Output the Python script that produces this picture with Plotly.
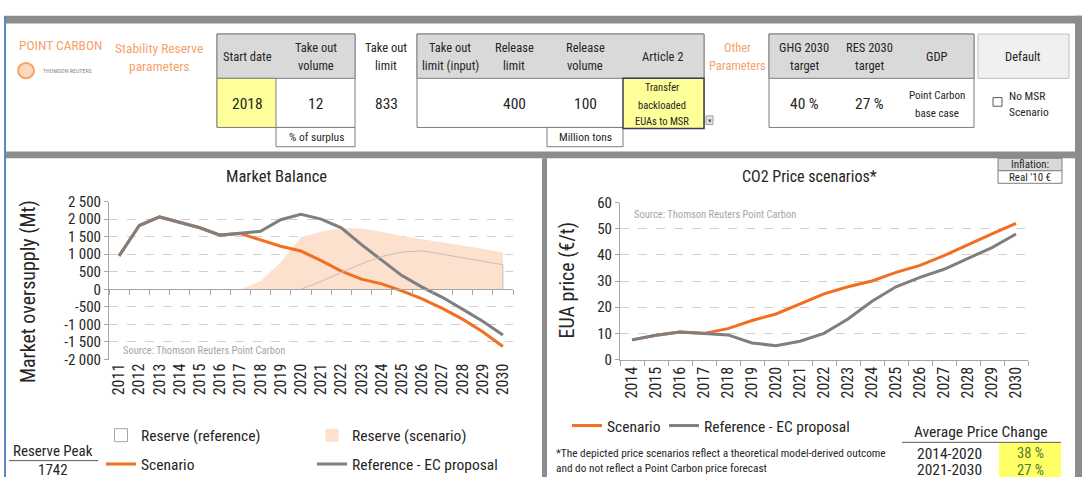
import plotly.graph_objects as go

W, H = 1082, 486

# --- data -------------------------------------------------------------
mb_years = ['2011', '2012', '2013', '2014', '2015', '2016', '2017', '2018', '2019', '2020',
            '2021', '2022', '2023', '2024', '2025', '2026', '2027', '2028', '2029', '2030']
ref_balance = [955, 1818, 2063, 1909, 1754, 1545, 1590, 1654, 1982, 2136,
               2000, 1754, 1272, 818, 391, 64, -227, -564, -909, -1300]
scen_balance = [955, 1818, 2063, 1909, 1754, 1545, 1590, 1409, 1227, 1091,
                818, 518, 291, 155, -45, -273, -545, -850, -1210, -1628]
reserve_scen = [None, None, None, None, None, None, 0, 227, 770, 1482,
                1640, 1742, 1735, 1640, 1520, 1430, 1340, 1245, 1155, 1045]
reserve_ref = [None, None, None, None, None, None, None, None, None, 0,
               227, 480, 727, 936, 1060, 1100, 1000, 900, 810, 700]
mb_ticks = [2500, 2000, 1500, 1000, 500, 0, -500, -1000, -1500, -2000]
mb_ticktext = ['2 500', '2 000', '1 500', '1 000', '500', '0', '-500', '-1 000', '-1 500', '-2 000']

px_years = ['2014', '2015', '2016', '2017', '2018', '2019', '2020', '2021', '2022',
            '2023', '2024', '2025', '2026', '2027', '2028', '2029', '2030']
scen_price = [7.5, 9.3, 10.5, 10.0, 11.8, 14.9, 17.4, 21.3, 25.1, 27.8, 30.0, 33.3, 36.0, 39.7, 44.0, 48.0, 52.0]
ref_price = [7.5, 9.3, 10.5, 10.0, 9.4, 6.3, 5.3, 7.0, 10.0, 15.5, 22.3, 27.8, 31.4, 34.5, 38.8, 42.8, 48.0]

ORANGE = '#f26f21'
GREY = '#7f7f7f'
PEACH = '#fbe1ce'
TXT = '#262626'
FONT = 'Liberation Sans Narrow, Roboto Condensed, Roboto, sans-serif'


def X(p):
    return p / W


def Y(p):
    return 1 - p / H


shapes = []
annotations = []


def rect(x0, y0, x1, y1, fill, line=None, lw=1, layer='below'):
    shapes.append(dict(type='rect', xref='paper', yref='paper', layer=layer,
                       x0=X(x0), x1=X(x1), y0=Y(y1), y1=Y(y0), fillcolor=fill,
                       line=dict(color=line or fill, width=lw if line else 0)))


def hline(x0, x1, y, color='#595959', lw=1):
    shapes.append(dict(type='line', xref='paper', yref='paper',
                       x0=X(x0), x1=X(x1), y0=Y(y), y1=Y(y), line=dict(color=color, width=lw)))


def txt(x, y, s, size=12.5, color=TXT, anchor='center', angle=0):
    annotations.append(dict(x=X(x), y=Y(y), xref='paper', yref='paper', text=s, showarrow=False,
                            xanchor=anchor, yanchor='middle', textangle=angle,
                            font=dict(size=size, color=color, family=FONT)))


# --- frame -------------------------------------------------------------
BAR = '#8c8c8c'
rect(6, 7, 1082, 15, BAR)
rect(6, 148, 1082, 155, BAR)
rect(542, 155, 547, 486, BAR)
rect(1075, 7, 1082, 486, BAR)
rect(4, 7, 6, 486, '#5b87c5')

# --- header panel -------------------------------------------------------
LC = '#7f7f7f'
HG = '#d9d9d9'
rect(217, 26, 355, 123, 'white', LC)
rect(217, 26, 355, 72, HG, LC)
rect(217, 72, 276, 123, '#ffff99', LC)
rect(276, 123, 355, 143, 'white', LC)
rect(417, 26, 704, 123, 'white', LC)
rect(417, 26, 704, 72, HG, LC)
rect(547, 123, 623, 143, 'white', LC)
rect(623, 72, 704, 124, '#ffff99', '#3a3a5a', 1.5)
rect(706, 111, 713, 120, '#e6e6e6', '#a0a0a0')
rect(769, 26, 974, 123, 'white', LC)
rect(769, 26, 974, 72, HG, LC)
rect(978, 26, 1069, 72, '#f0f0f0', '#c0c0c0')
rect(993, 92, 1002, 101, 'white', '#595959')
shapes.append(dict(type='circle', xref='paper', yref='paper', x0=X(18), x1=X(34), y0=Y(72), y1=Y(56),
                   fillcolor='#fcd8bd', line=dict(color='#f4a46a', width=2)))

txt(17, 37, 'POINT CARBON', 13.5, '#f5a26c', 'left')
txt(41, 64, 'THOMSON REUTERS', 6, '#8a8a8a', 'left')
txt(159, 40, 'Stability Reserve', 13.5, '#f5a26c')
txt(159, 59, 'parameters', 13.5, '#f5a26c')
txt(247, 49, 'Start date')
for cx, a, b in [(316, 'Take out', 'volume'), (386, 'Take out', 'limit'),
                 (450, 'Take out', 'limit (input)'), (514, 'Release', 'limit'),
                 (585, 'Release', 'volume'), (804, 'GHG 2030', 'target'),
                 (869, 'RES 2030', 'target')]:
    txt(cx, 40, a)
    txt(cx, 59, b)
txt(737, 40, 'Other', 12.5, '#f5a26c')
txt(737, 59, 'Parameters', 12.5, '#f5a26c')
txt(662, 49, 'Article 2')
txt(937, 49, 'GDP')
txt(1023, 49, 'Default')
for cx, s in [(247, '2018'), (316, '12'), (386, '833'), (514, '400'), (585, '100'), (804, '40 %'), (869, '27 %')]:
    txt(cx, 99, s, 15.5)
txt(662, 82, 'Transfer', 10.5)
txt(662, 100, 'backloaded', 10.5)
txt(662, 117, 'EUAs to MSR', 10.5)
txt(709.5, 116, '▾', 7, '#555555')
txt(937, 90, 'Point Carbon', 11)
txt(937, 109, 'base case', 11)
txt(316, 133, '% of surplus', 11.5)
txt(585, 133, 'Million tons', 11.5)
txt(1007, 90, 'No MSR', 11.5, TXT, 'left')
txt(1007, 107, 'Scenario', 11.5, TXT, 'left')

# --- chart panels text ---------------------------------------------------
txt(276, 174, 'Market Balance', 16.5)
txt(809, 174, 'CO2 Price scenarios*', 16)
rect(998, 155, 1062, 168, HG, LC)
rect(998, 168, 1062, 181, 'white', LC)
txt(1030, 161.5, 'Inflation:', 11)
txt(1030, 174.5, "Real '10 €", 11)
txt(121, 355, 'Source: Thomson Reuters Point Carbon', 10.5, '#a6a6a6', 'left')
txt(632, 213, 'Source: Thomson Reuters Point Carbon', 10.5, '#a6a6a6', 'left')
txt(28, 294, 'Market oversupply (Mt)', 20, TXT, 'center', -90)
txt(567, 282, 'EUA price (€/t)', 20, TXT, 'center', -90)

txt(53, 459, 'Reserve Peak', 15)
hline(9, 98, 469)
txt(53, 479, '1742', 15)

rect(999, 450, 1061, 486, '#ffff66')
hline(902, 1061, 450)
txt(981, 439, 'Average Price Change', 15.5)
txt(949, 462, '2014-2020', 15.5)
txt(949, 479, '2021-2030', 15.5)
txt(1030, 462, '38 %', 14.5, '#4e7a2c')
txt(1030, 479, '27 %', 14.5, '#4e7a2c')
txt(554, 462, '*The depicted price scenarios reflect a theoretical model-derived outcome', 11.3, TXT, 'left')
txt(554, 477, 'and do not reflect a Point Carbon price forecast', 11.3, TXT, 'left')

# --- traces ---------------------------------------------------------------
fig = go.Figure()
fig.add_trace(go.Scatter(x=mb_years, y=reserve_scen, mode='lines', fill='tozeroy', fillcolor=PEACH,
                         line=dict(width=0, color=PEACH), showlegend=False))
fig.add_trace(go.Scatter(x=mb_years + mb_years[-1:], y=reserve_ref + [0], mode='lines',
                         line=dict(width=1, color='#bfbfbf'), showlegend=False, xaxis='x3', yaxis='y'))
fig.add_trace(go.Scatter(x=mb_years, y=scen_balance, mode='lines', name='Scenario',
                         line=dict(width=3, color=ORANGE), legend='legend3'))
fig.add_trace(go.Scatter(x=mb_years, y=ref_balance, mode='lines', name='Reference - EC proposal',
                         line=dict(width=3, color=GREY), legend='legend4'))
# legend entries for the reserve areas
fig.add_trace(go.Scatter(x=[None], y=[None], mode='markers', name='Reserve (reference)',
                         marker=dict(symbol='square', size=13, color='white', line=dict(color='#a6a6a6', width=1)),
                         legend='legend'))
fig.add_trace(go.Scatter(x=[None], y=[None], mode='markers', name='Reserve (scenario)',
                         marker=dict(symbol='square', size=13, color=PEACH, line=dict(width=0)),
                         legend='legend2'))

fig.add_trace(go.Scatter(x=px_years, y=scen_price, mode='lines', name='Scenario',
                         line=dict(width=3, color=ORANGE), xaxis='x2', yaxis='y2', legend='legend5'))
fig.add_trace(go.Scatter(x=px_years, y=ref_price, mode='lines', name='Reference - EC proposal',
                         line=dict(width=3, color=GREY), xaxis='x2', yaxis='y2', legend='legend6'))

# --- axes -------------------------------------------------------------------
AX = '#a6a6a6'
ydom1 = [Y(364), Y(200)]
yr1 = [-2000, 2500]
zero_pos = ydom1[0] + (0 - yr1[0]) / (yr1[1] - yr1[0]) * (ydom1[1] - ydom1[0])

common_y = dict(showline=True, linecolor=AX, ticks='outside', ticklen=4, tickcolor=AX,
                gridcolor='#d0d0d0', griddash='dash', zeroline=False,
                tickfont=dict(size=15, color=TXT, family=FONT))
common_x = dict(type='category', tickangle=-90, showgrid=False, tickmode='linear', dtick=1,
                tickfont=dict(size=16, color=TXT, family=FONT))

legend_common = dict(bgcolor='rgba(0,0,0,0)', xanchor='left', yanchor='middle', itemwidth=30,
                     font=dict(size=15.5, color=TXT, family=FONT), itemclick=False, itemdoubleclick=False)

fig.update_layout(
    width=W, height=H, margin=dict(l=0, r=0, t=0, b=0),
    paper_bgcolor='white', plot_bgcolor='rgba(0,0,0,0)',
    font=dict(family=FONT, color=TXT),
    xaxis=dict(domain=[X(109), X(513)], anchor='y', categoryarray=mb_years, categoryorder='array',
               range=[-0.5, 19.5], showline=False, ticks='', **common_x),
    xaxis3=dict(overlaying='x', anchor='free', position=zero_pos, type='category', categoryarray=mb_years,
                categoryorder='array', range=[-0.5, 19.5], showline=True, linecolor=AX, ticks='outside',
                tickson='boundaries', ticklen=5, tickcolor=AX, showticklabels=False, showgrid=False),
    yaxis=dict(domain=ydom1, range=yr1, tickvals=mb_ticks, ticktext=mb_ticktext, **common_y),
    xaxis2=dict(domain=[X(620), X(1028)], anchor='y2', categoryarray=px_years, categoryorder='array',
                range=[-0.5, 16.5], showline=True, linecolor=AX, ticks='outside', tickson='boundaries',
                ticklen=5, tickcolor=AX, **common_x),
    yaxis2=dict(domain=[Y(364), Y(201)], anchor='x2', range=[0, 60], dtick=10, **common_y),
    legend=dict(x=X(101), y=Y(443), **legend_common),
    legend2=dict(x=X(312), y=Y(443), **legend_common),
    legend3=dict(x=X(101), y=Y(473), **legend_common),
    legend4=dict(x=X(312), y=Y(473), **legend_common),
    legend5=dict(x=X(567), y=Y(433), **legend_common),
    legend6=dict(x=X(664), y=Y(433), **legend_common),
    shapes=shapes,
    annotations=annotations,
)

fig.write_html('out.html', config={'displayModeBar': False},
               post_script="document.body.style.margin='0';document.body.style.overflow='hidden';")
